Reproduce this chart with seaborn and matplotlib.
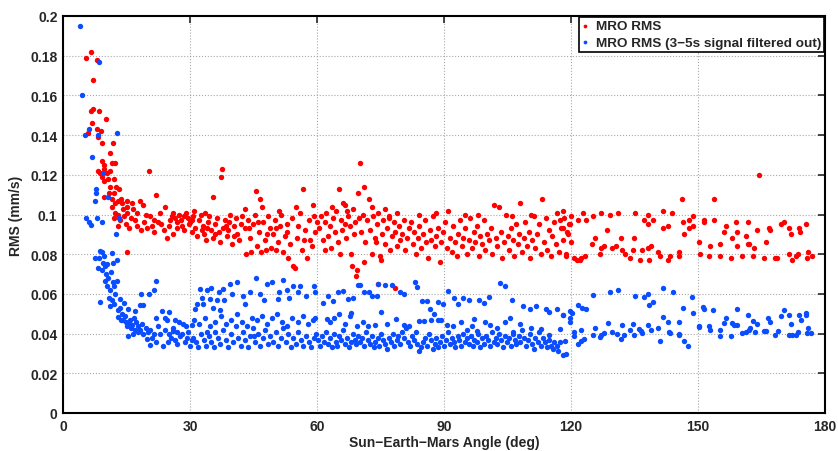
import numpy as np
import pandas as pd
import matplotlib
matplotlib.use("Agg")
import matplotlib.pyplot as plt
import seaborn as sns

# ---------------- data ----------------
red_near = [(5.5,.179),(6.5,.182),(8.0,.178),(7.2,.168),(6.0,.141),(6.8,.146),(6.5,.152),(7.0,.153),
    (8.5,.152),(10.2,.148),(8.1,.143),(9.0,.142),(8.3,.139),(9.2,.136),(11.8,.136),(11.0,.131),
    (11.6,.126),(12.2,.126),(9.1,.127),(9.6,.125),(8.3,.122),(8.8,.121),(9.8,.123),(10.4,.121),
    (11.2,.122),(9.3,.119),(9.8,.117),(10.6,.118),(12.1,.118),(11.0,.114),(12.6,.114),(13.2,.113),
    (12.0,.111),(10.9,.111),(9.6,.109),(11.6,.108),(13.0,.107),(12.4,.106),(14.0,.106),(13.6,.108),
    (15.1,.107),(16.2,.106),(15.0,.104),(14.1,.103),(11.5,.104),(12.2,.101),(13.1,.100),(14.3,.099),
    (15.2,.101),(16.0,.098),(17.1,.097),(13.5,.097),(14.8,.095),(15.5,.093),(16.5,.103),(17.5,.101),
    (18.1,.107),(19.0,.105),(15.1,.081),(12.0,.098),(13.0,.094)]
red_20_42 = [(17.5,.094),(18.4,.092),(19.2,.096),(19.8,.093),(20.5,.099),(20.3,.122),(21.0,.094),
    (21.6,.091),(22.0,.110),(22.5,.096),(23.2,.095),(23.8,.092),(24.0,.104),(24.6,.088),(25.2,.097),
    (25.7,.099),(26.0,.101),(26.5,.098),(26.9,.096),(27.3,.100),(27.8,.097),(28.2,.094),(28.6,.099),
    (29.0,.101),(29.5,.098),(30.0,.096),(30.4,.091),(30.8,.099),(31.2,.093),(31.7,.089),(32.1,.097),
    (32.5,.100),(33.0,.094),(33.4,.090),(33.8,.087),(34.2,.096),(34.6,.099),(35.0,.092),(35.4,.088),
    (35.5,.109),(35.9,.095),(36.3,.098),(36.8,.091),(37.3,.119),(37.6,.123),(37.2,.086),(37.8,.093),
    (38.2,.097),(38.7,.089),(39.1,.096),(39.5,.100),(40.0,.085),(40.3,.094),(40.8,.098),(41.2,.090),
    (41.6,.087),(42.0,.095),(26.0,.090),(28.5,.092),(23.0,.101),(31.0,.102),(33.5,.101),(21.5,.097),
    (19.5,.100),(25.0,.094),(27.0,.093),(29.8,.095),(32.8,.092),(34.0,.093),(36.0,.090),(38.5,.094),
    (40.5,.089),(39.0,.092),(30.5,.097)]
red_42_60 = [(42.4,.099),(42.9,.093),(43.3,.080),(43.7,.097),(44.1,.088),(44.5,.081),(44.9,.095),
    (45.3,.100),(45.6,.112),(45.9,.084),(46.3,.091),(46.6,.108),(46.8,.081),(47.2,.096),(47.6,.087),
    (48.0,.082),(48.4,.099),(48.8,.093),(49.2,.083),(49.6,.090),(50.0,.097),(50.4,.082),(50.8,.086),
    (51.2,.094),(51.6,.100),(52.0,.081),(52.4,.089),(52.8,.095),(53.2,.078),(53.6,.085),(54.0,.098),
    (54.4,.074),(54.8,.073),(55.2,.088),(55.6,.094),(56.0,.101),(56.4,.082),(56.8,.113),(57.2,.092),
    (57.6,.078),(58.0,.097),(58.4,.087),(58.8,.084),(59.2,.099),(59.6,.091),(60.0,.096),(43.0,.103),
    (47.0,.104),(51.0,.102),(55.0,.104),(59.0,.105),(44.0,.093),(46.0,.096),(48.2,.090),(50.2,.093),
    (53.0,.091),(57.0,.087)]
red_60_82 = [(60.5,.093),(61.0,.099),(61.4,.087),(61.8,.096),(62.2,.101),(62.6,.089),(63.0,.094),
    (63.4,.083),(63.8,.098),(64.2,.091),(64.6,.102),(65.0,.086),(65.2,.113),(65.6,.097),(66.0,.092),
    (66.2,.106),(66.5,.105),(66.9,.088),(67.3,.099),(67.7,.094),(68.0,.080),(68.3,.074),(68.6,.103),
    (69.0,.096),(69.3,.069),(69.5,.072),(69.8,.111),(70.2,.126),(70.5,.091),(70.8,.100),(71.1,.114),
    (71.4,.086),(71.8,.097),(72.2,.108),(72.5,.092),(72.9,.080),(73.3,.099),(73.7,.088),(74.1,.095),
    (74.5,.101),(74.9,.079),(75.3,.090),(75.7,.097),(76.1,.085),(76.5,.093),(76.9,.099),(77.3,.082),
    (77.7,.089),(78.1,.096),(78.5,.091),(78.9,.084),(79.3,.094),(79.7,.087),(80.1,.090),(80.5,.097),
    (80.9,.082),(81.3,.088),(81.7,.093),(63.5,.104),(67.0,.102),(70.0,.098),(73.0,.104),(76.0,.103),
    (79.0,.101),(62.0,.082),(65.5,.080),(71.0,.076),(75.0,.077),(77.0,.098),(74.0,.086),(68.8,.090),
    (66.5,.095),(74.3,.065),(78.4,.063)]
red_82_120 = [(82.2,.096),(82.6,.085),(83.0,.091),(83.4,.080),(83.8,.088),(84.2,.094),(84.6,.083),
    (85.0,.090),(85.4,.097),(85.8,.086),(86.2,.078),(86.6,.092),(87.0,.087),(87.4,.099),(87.8,.084),
    (88.2,.089),(88.6,.093),(89.0,.076),(89.4,.086),(89.8,.091),(90.2,.096),(90.6,.083),(91.0,.102),
    (91.4,.088),(91.8,.081),(92.2,.094),(92.6,.086),(93.0,.079),(93.4,.090),(93.8,.097),(94.2,.084),
    (94.6,.088),(95.0,.093),(95.4,.080),(95.8,.087),(96.2,.098),(96.6,.083),(97.0,.091),(97.4,.086),
    (97.8,.094),(98.2,.079),(98.6,.089),(99.0,.085),(99.4,.097),(99.8,.082),(100.2,.090),(100.6,.087),
    (101.0,.093),(101.4,.080),(101.8,.105),(102.2,.088),(102.6,.084),(103.0,.104),(103.4,.091),
    (103.8,.078),(104.2,.086),(104.6,.100),(105.0,.089),(105.4,.082),(105.8,.093),(106.2,.087),
    (106.6,.079),(107.0,.095),(107.4,.085),(107.8,.090),(108.0,.106),(108.4,.081),(108.8,.088),
    (109.2,.096),(109.6,.084),(110.0,.091),(110.4,.078),(110.8,.087),(111.2,.099),(111.6,.083),
    (112.0,.090),(112.4,.095),(112.8,.080),(113.2,.108),(113.6,.086),(114.0,.098),(114.4,.082),
    (114.8,.092),(115.2,.079),(115.6,.089),(116.0,.096),(116.4,.085),(116.8,.101),(117.2,.081),
    (117.6,.093),(118.0,.087),(118.4,.098),(118.8,.080),(119.2,.090),(119.6,.095),(120.0,.086),
    (84.0,.100),(88.0,.101),(95.0,.100),(98.0,.100),(106.0,.099),(110.5,.100)]
red_120_177 = [(117.4,.097),(118.2,.102),(118.0,.093),(119.0,.091),(118.8,.079),(119.8,.095),
    (120.0,.099),(120.6,.078),(121.5,.077),(122.2,.077),(122.3,.078),(123.3,.079),(121.6,.097),
    (122.8,.101),(123.6,.097),(125.0,.085),(125.6,.088),(125.1,.099),(126.9,.080),(127.0,.083),
    (127.8,.084),(127.2,.101),(128.6,.092),(129.1,.100),(129.7,.083),(130.6,.084),(131.0,.101),
    (131.7,.088),(132.1,.082),(132.7,.080),(134.0,.078),(134.6,.082),(134.9,.088),(135.1,.101),
    (136.2,.077),(136.8,.082),(137.3,.097),(138.2,.100),(138.3,.095),(138.4,.077),(138.1,.083),
    (139.0,.084),(139.4,.097),(140.6,.081),(141.1,.079),(141.7,.102),(141.8,.093),(142.8,.094),
    (143.0,.077),(143.4,.079),(143.9,.101),(145.4,.079),(145.5,.081),(146.3,.108),(146.6,.090),
    (146.4,.096),(147.8,.097),(147.9,.093),(148.8,.099),(148.9,.094),(150.3,.086),(150.4,.080),
    (151.3,.096),(151.5,.097),(152.7,.079),(152.8,.084),(153.8,.108),(153.7,.097),(155.2,.079),
    (155.3,.085),(156.2,.091),(156.6,.094),(157.7,.078),(158.0,.088),(159.0,.096),(159.1,.091),
    (159.3,.084),(160.3,.079),(161.3,.089),(161.7,.096),(161.9,.085),(162.1,.085),(162.9,.079),
    (163.2,.083),(164.0,.092),(164.4,.120),(165.6,.078),(166.1,.086),(166.7,.093),(167.0,.092),
    (168.2,.078),(168.6,.078),(169.5,.095),(170.3,.096),(171.6,.093),(172.0,.090),(171.4,.080),
    (172.1,.077),(173.2,.079),(173.7,.080),(173.8,.093),(174.2,.091),(175.5,.095),(175.7,.078),
    (176.0,.081),(177.0,.079)]

blue_near = [(4.0,.195),(4.5,.160),(5.2,.140),(6.1,.143),(8.2,.140),(8.5,.177),(12.7,.141),(6.9,.129),
    (7.9,.113),(7.7,.111),(7.5,.107),(9.5,.121),(10.7,.109),(5.4,.098),(6.1,.096),(8.0,.098),
    (9.2,.096),(13.2,.098),(6.6,.0945),(12.6,.090),(8.7,.0815),(9.3,.081),(11.5,.0805),(7.6,.078),
    (8.4,.078),(12.8,.0773),(11.8,.0755),(9.5,.0756),(8.3,.073),(9.1,.072),(10.1,.070),(9.9,.0667),
    (10.3,.0642),(11.9,.066),(12.7,.0667),(8.7,.056),(10.9,.0578),(11.5,.0567),(11.2,.054),
    (12.1,.055),(13.5,.0574),(14.3,.0555),(13.1,.0483),(13.8,.0466),(14.6,.049),(15.4,.0524),
    (15.8,.047),(15.0,.044),(16.2,.0445),(17.3,.046),(17.0,.042),(18.2,.042),(15.4,.039),(16.6,.040),
    (17.8,.041),(18.9,.040),(17.0,.0516),(18.2,.0544),(19.0,.0544),(18.4,.060),(20.2,.060),
    (21.5,.0621),(22.0,.0667),(10.0,.074),(10.6,.068),(11.0,.062),(12.3,.060),(13.0,.052),(14.0,.050),
    (14.8,.046),(15.6,.045),(16.0,.043),(16.8,.048),(17.6,.044),(18.6,.045),(19.5,.043),(20.0,.041),
    (20.6,.042),(9.8,.079),(10.5,.075),(11.3,.071),(12.0,.064),(13.4,.053),(14.2,.047)]
blue_20_60 = [(19.8,.0373),(20.6,.0345),(21.4,.040),(22.5,.044),(23.3,.0516),(23.7,.0336),(24.5,.047),
    (24.8,.036),(26.1,.0415),(26.4,.0468),(27.6,.039),(28.4,.045),(29.2,.038),(30.0,.034),(30.4,.0445),
    (31.2,.0524),(31.6,.055),(32.4,.0625),(32.8,.058),(34.0,.062),(34.7,.0574),(35.5,.053),(36.3,.057),
    (37.1,.052),(37.9,.0625),(39.4,.065),(41.0,.066),(42.6,.059),(44.1,.061),(45.6,.068),(46.5,.060),
    (48.1,.065),(49.3,.066),(50.8,.0574),(52.0,.067),(52.8,.062),(54.4,.064),(55.4,.061),
    (21.0,.038),(22.0,.036),(23.0,.040),(24.0,.042),(25.0,.040),(25.5,.038),(26.5,.037),(27.0,.041),
    (28.0,.040),(28.8,.036),(29.5,.041),(30.8,.038),(31.5,.036),(32.0,.033),(32.6,.040),(33.2,.037),
    (33.8,.034),(34.4,.039),(35.0,.036),(35.6,.033),(36.0,.041),(36.6,.038),(37.2,.035),(37.8,.042),
    (38.4,.037),(39.0,.033),(39.6,.040),(40.2,.036),(40.8,.044),(41.4,.038),(42.0,.034),(42.5,.041),
    (43.0,.037),(43.6,.033),(44.2,.039),(44.8,.043),(45.4,.036),(46.0,.040),(46.6,.034),(47.2,.038),
    (47.8,.042),(48.4,.035),(49.0,.039),(49.6,.036),(50.2,.041),(50.8,.034),(51.4,.038),(52.0,.043),
    (52.6,.036),(53.2,.040),(53.8,.033),(54.4,.038),(55.0,.035),(55.6,.041),(56.2,.037),(56.8,.034),
    (57.4,.039),(58.0,.036),(58.6,.033),(59.2,.038),(59.8,.040),
    (31.0,.047),(32.2,.045),(33.5,.048),(34.8,.044),(36.0,.046),(37.4,.049),(38.6,.045),(39.8,.047),
    (41.0,.050),(42.2,.046),(43.4,.044),(44.6,.048),(45.8,.047),(47.0,.049),(48.2,.045),(49.4,.048),
    (50.6,.050),(51.8,.046),(53.0,.044),(54.2,.048),(55.4,.046),(56.6,.049),(57.8,.045),(59.0,.047),
    (26.0,.043),(27.5,.046),(29.0,.044),(24.0,.048),(25.0,.051),(22.0,.048),
    (33.0,.055),(38.0,.057),(40.0,.060),(43.0,.055),(47.5,.057),(51.0,.061),(53.5,.058),(56.0,.064),
    (57.5,.059),(59.5,.061),(35.0,.063),(36.8,.061),(27.0,.035),(30.5,.037),(34.0,.041),(45.0,.039)]
blue_60_120_low = [(60.3,.037),(60.8,.034),(61.2,.039),(61.7,.036),(62.1,.041),(62.6,.035),(63.0,.038),
    (63.5,.033),(63.9,.040),(64.4,.036),(64.8,.034),(65.3,.039),(65.7,.037),(66.2,.042),(66.6,.035),
    (67.1,.038),(67.5,.033),(68.0,.036),(68.4,.040),(68.9,.037),(69.3,.035),(69.8,.039),(70.2,.036),
    (70.7,.038),(71.1,.034),(71.6,.041),(72.0,.037),(72.5,.035),(72.9,.039),(73.4,.033),(73.8,.036),
    (74.3,.038),(74.7,.034),(75.2,.040),(75.6,.037),(76.1,.035),(76.5,.032),(77.0,.038),(77.4,.036),
    (77.9,.040),(78.3,.034),(78.8,.037),(79.2,.039),(79.7,.035),(80.1,.041),(80.6,.038),(81.0,.043),
    (81.5,.036),(81.9,.034),(82.4,.039),(82.8,.037),(83.3,.041),(83.7,.035),(84.2,.031),(84.6,.033),
    (85.1,.036),(85.5,.038),(86.0,.034),(86.4,.040),(86.9,.037),(87.3,.032),(87.8,.035),(88.2,.038),
    (88.7,.033),(89.1,.036),(89.6,.039),(90.0,.034),(90.5,.037),(90.9,.041),(91.4,.035),(91.8,.038),
    (92.3,.036),(92.7,.033),(93.2,.039),(93.6,.037),(94.1,.034),(94.5,.040),(95.0,.036),(95.4,.038),
    (95.9,.035),(96.3,.039),(96.8,.034),(97.2,.037),(97.7,.036),(98.1,.040),(98.6,.033),(99.0,.038),
    (99.5,.035),(99.9,.039),(100.4,.037),(100.8,.034),(101.3,.041),(101.7,.036),(102.2,.038),
    (102.6,.035),(103.1,.040),(103.5,.037),(104.0,.033),(104.4,.039),(104.9,.036),(105.3,.038),
    (105.8,.034),(106.2,.040),(106.7,.037),(107.1,.035),(107.6,.039),(108.0,.036),(108.5,.042),
    (108.9,.038),(109.4,.034),(109.8,.037),(110.3,.040),(110.7,.035),(111.2,.032),(111.6,.038),
    (112.1,.036),(112.5,.041),(113.0,.034),(113.4,.038),(113.9,.036),(114.3,.033),(114.8,.037),
    (115.2,.034),(115.7,.032),(116.1,.036),(116.6,.034),(117.0,.031)]
blue_60_120_up = [(59.3,.064),(61.3,.0554),(62.7,.059),(63.7,.0563),(64.9,.0608),(66.2,.0616),
    (67.4,.0575),(68.4,.058),(69.6,.0645),(70.2,.0645),(71.0,.061),(72.2,.061),(73.0,.059),(74.1,.059),
    (74.5,.0648),(76.0,.0645),(77.6,.0645),(79.6,.0608),(80.6,.060),(83.2,.0662),(83.6,.0633),
    (84.7,.0563),(85.9,.0563),(86.7,.0524),(87.6,.050),(88.6,.056),(89.8,.0547),(90.9,.0616),
    (92.3,.058),(93.4,.055),(94.5,.058),(95.8,.057),(97.1,.0474),(98.2,.057),(99.4,.0555),
    (100.6,.0585),(103.2,.0655),(104.4,.0638),(106.0,.0571),(108.7,.0537),(110.3,.0524),
    (111.8,.0537),(114.2,.0524),(114.8,.051),(116.6,.0525),(118.2,.0494),(119.8,.0516),
    (59.5,.0477),(62.3,.0474),(63.1,.046),(64.1,.048),(65.3,.050),(66.5,.045),(67.7,.049),(68.1,.0505),
    (69.5,.044),(70.8,.046),(72.0,.044),(73.7,.0445),(75.0,.051),(76.5,.045),(78.7,.0474),(80.5,.0445),
    (81.8,.044),(84.1,.0462),(85.3,.0462),(86.9,.0467),(88.6,.047),(89.4,.0467),(90.6,.0445),
    (92.2,.044),(95.4,.042),(96.6,.0437),(97.8,.0415),(99.7,.0457),(100.9,.0445),(104.4,.046),
    (105.6,.0478),(106.4,.041),(112.8,.0425),(114.8,.0395),(117.5,.0425),(119.8,.0478),(102.5,.043),
    (108.0,.045),(110.5,.043),(94.0,.046)]
blue_120_177 = [(117.4,.0356),(118.0,.0292),(118.8,.0297),(118.6,.0365),(118.2,.0494),(119.8,.0457),
    (120.2,.0502),(120.6,.0406),(120.7,.0386),(121.6,.0348),(122.3,.0362),(123.1,.0375),(121.6,.0544),
    (122.7,.0527),(123.5,.0524),(122.3,.0416),(125.1,.0395),(125.3,.0596),(125.6,.0429),(126.9,.0384),
    (127.1,.0392),(127.9,.0403),(128.7,.0452),(129.1,.0608),(129.8,.041),(130.8,.0398),(131.0,.062),
    (131.8,.0373),(132.0,.0444),(132.6,.0393),(133.9,.0418),(134.7,.0447),(134.8,.0395),(135.1,.059),
    (136.0,.0421),(136.5,.0415),(136.7,.0402),(137.3,.0586),(138.1,.0444),(138.3,.0601),(138.4,.0542),
    (138.9,.0418),(139.4,.0559),(140.6,.0427),(141.0,.0363),(141.7,.0631),(141.8,.0485),(142.8,.046),
    (143.1,.0409),(143.4,.0402),(144.0,.061),(145.4,.0458),(145.5,.0391),(145.6,.0396),(146.5,.0527),
    (146.6,.0363),(147.7,.0336),(148.7,.0583),(148.8,.0502),(150.2,.044),(150.3,.0432),(151.1,.0532),
    (151.3,.0525),(152.7,.0437),(152.8,.0418),(153.6,.0521),(155.2,.0418),(155.3,.0386),(156.2,.0455),
    (156.5,.0478),(157.7,.0386),(158.0,.0452),(158.5,.0445),(159.1,.0444),(159.2,.0526),(160.3,.0403),
    (161.3,.041),(161.7,.0495),(162.0,.0418),(162.2,.0428),(162.9,.0462),(163.5,.041),(163.9,.0449),
    (165.6,.0411),(166.1,.0414),(166.6,.0481),(167.1,.046),(168.2,.0395),(168.8,.0414),(169.5,.0487),
    (170.3,.0519),(171.4,.0494),(171.6,.0393),(172.0,.0447),(172.3,.0392),(173.2,.0392),(173.7,.0406),
    (173.8,.0492),(174.3,.047),(175.5,.0505),(175.6,.0495),(175.7,.0403),(175.9,.0427),(176.8,.0401)]

series_labels = ["MRO RMS", "MRO RMS (3\u22125s signal filtered out)"]
series_colors = ["#ff0000", "#0a4cff"]
x_ticks = [0, 30, 60, 90, 120, 150, 180]
y_ticks = [0, 0.02, 0.04, 0.06, 0.08, 0.1, 0.12, 0.14, 0.16, 0.18, 0.2]

red = red_near + red_20_42 + red_42_60 + red_60_82 + red_82_120 + red_120_177
blue = blue_near + blue_20_60 + blue_60_120_low + blue_60_120_up + blue_120_177
df_red = pd.DataFrame(red, columns=["angle", "rms"])
df_blue = pd.DataFrame(blue, columns=["angle", "rms"])

# ---------------- figure ----------------
sns.set_style("white")
plt.rcParams["font.family"] = ["Liberation Sans", "DejaVu Sans"]
plt.rcParams["font.weight"] = "bold"

fig = plt.figure(figsize=(8.38, 4.52), dpi=100)
ax = fig.add_axes([63/838, 1-414/452, (825-63)/838, (414-17)/452])

sns.scatterplot(data=df_red, x="angle", y="rms", ax=ax, color=series_colors[0],
                s=15, linewidth=0, label=series_labels[0], zorder=3)
sns.scatterplot(data=df_blue, x="angle", y="rms", ax=ax, color=series_colors[1],
                s=15, linewidth=0, label=series_labels[1], zorder=3)

ax.set_xlim(0, 180)
ax.set_ylim(0, 0.2)
ax.set_xticks(x_ticks)
ax.set_yticks(y_ticks)
ax.set_xticklabels([f"{t:g}" for t in x_ticks], fontsize=10, fontweight="bold")
ax.set_yticklabels([f"{t:g}" for t in y_ticks], fontsize=10, fontweight="bold")
ax.tick_params(direction="in", length=5, width=1.2, top=True, right=True, pad=4)
ax.grid(True, linestyle=":", color="#a8a8a8", linewidth=0.8)
ax.set_axisbelow(True)
for sp in ax.spines.values():
    sp.set_linewidth(1.5)
    sp.set_color("black")

ax.set_xlabel("Sun\u2212Earth\u2212Mars Angle (deg)", fontsize=10, fontweight="bold", labelpad=2)
ax.set_ylabel("RMS (mm/s)", fontsize=10, fontweight="bold", labelpad=5)

leg = ax.legend(loc="upper right", fontsize=9.7, frameon=True, fancybox=False,
                edgecolor="black", framealpha=1, borderaxespad=0.1, borderpad=0.2,
                handlelength=0.5, handletextpad=0.5, labelspacing=0.3, markerscale=0.7)
leg.get_frame().set_linewidth(1.2)
for t in leg.get_texts():
    t.set_fontweight("bold")

fig.savefig("out.png", dpi=100)
